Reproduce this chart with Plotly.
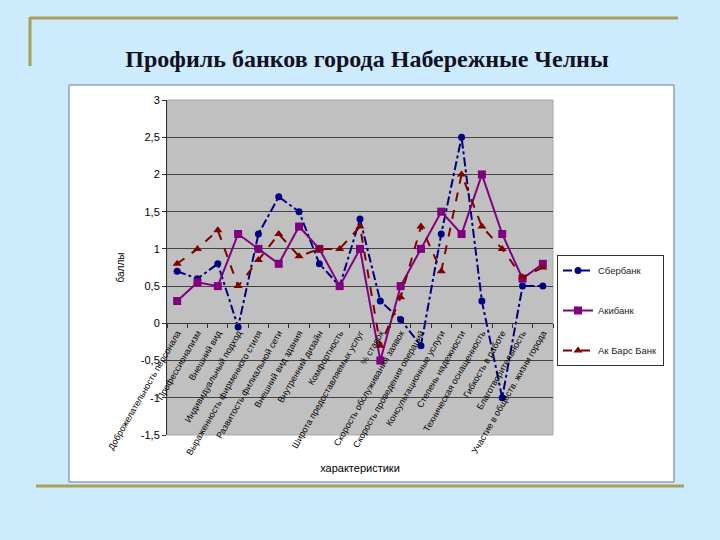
import plotly.graph_objects as go

categories = [
    "Доброжелательность персонала",
    "Профессионализм",
    "Внешний вид",
    "Индивидуальный подход",
    "Выраженность фирменного стиля",
    "Развитость филиальной сети",
    "Внешний вид здания",
    "Внутренний дизайн",
    "Комфортность",
    "Широта предоставляемых услуг",
    "% ставок",
    "Скорость обслуживания заявок",
    "Скорость проведения операций",
    "Консультационные услуги",
    "Степень надежности",
    "Техническая оснащенность",
    "Гибкость в работе",
    "Благотворительность",
    "Участие в обществ. жизни города",
]

sberbank = [0.7, 0.6, 0.8, -0.05, 1.2, 1.7, 1.5, 0.8, 0.5, 1.4, 0.3, 0.05, -0.3, 1.2, 2.5, 0.3, -1.0, 0.5, 0.5]
akibank = [0.3, 0.55, 0.5, 1.2, 1.0, 0.8, 1.3, 1.0, 0.5, 1.0, -0.5, 0.5, 1.0, 1.5, 1.2, 2.0, 1.2, 0.6, 0.8]
akbars = [0.8, 1.0, 1.25, 0.5, 0.85, 1.2, 0.9, 1.0, 1.0, 1.3, -0.3, 0.35, 1.3, 0.7, 2.0, 1.3, 1.0, 0.62, 0.75]

series_names = ["Сбербанк", "Акибанк", "Ак Барс Банк"]

y_tickvals = [3, 2.5, 2, 1.5, 1, 0.5, 0, -0.5, -1, -1.5]
y_ticktext = ["3", "2,5", "2", "1,5", "1", "0,5", "0", "-0,5", "-1", "-1,5"]

title_text = "Профиль банков города Набережные Челны"
x_title = "характеристики"
y_title = "баллы"

W, H = 720, 540
L, R, T, B = 167, 553, 100, 435  # plot area in pixels
YMIN, YMAX = -1.5, 3.0

def px_x(p):
    return (p - L) / (R - L)

def px_y(p):
    return (B - p) / (B - T)

fig = go.Figure()

fig.add_trace(go.Scatter(
    x=categories, y=sberbank, name=series_names[0], mode="lines+markers",
    legendgroup="a",
    line=dict(color="#000080", width=2, dash="dashdot"),
    marker=dict(symbol="circle", size=7, color="#000080"),
))
fig.add_trace(go.Scatter(
    x=categories, y=akibank, name=series_names[1], mode="lines+markers",
    legendgroup="b",
    line=dict(color="#800080", width=2),
    marker=dict(symbol="square", size=8, color="#800080"),
))
fig.add_trace(go.Scatter(
    x=categories, y=akbars, name=series_names[2], mode="lines+markers",
    legendgroup="c",
    line=dict(color="#800000", width=2, dash="dash"),
    marker=dict(symbol="triangle-up", size=8, color="#800000"),
))

zero_pos = (0 - YMIN) / (YMAX - YMIN)

shapes = [
    # white chart box
    dict(type="rect", xref="paper", yref="paper", layer="below",
         x0=px_x(69), x1=px_x(674), y0=px_y(482), y1=px_y(85),
         fillcolor="white", line=dict(color="#6B7B8A", width=1)),
    # gray plot area
    dict(type="rect", xref="paper", yref="paper", layer="below",
         x0=0, x1=1, y0=0, y1=1,
         fillcolor="#C0C0C0", line=dict(color="#A8A8A8", width=1)),
    # olive slide decorations
    dict(type="line", xref="paper", yref="paper",
         x0=px_x(30), x1=px_x(678), y0=px_y(18), y1=px_y(18),
         line=dict(color="#A9A05A", width=3)),
    dict(type="line", xref="paper", yref="paper",
         x0=px_x(30), x1=px_x(30), y0=px_y(17), y1=px_y(66),
         line=dict(color="#A9A05A", width=3)),
    dict(type="line", xref="paper", yref="paper",
         x0=px_x(36), x1=px_x(684), y0=px_y(486), y1=px_y(486),
         line=dict(color="#A9A05A", width=3)),
]

fig.update_layout(
    width=W, height=H,
    margin=dict(l=L, r=W - R, t=T, b=H - B),
    paper_bgcolor="#CCEBFC",
    plot_bgcolor="rgba(0,0,0,0)",
    shapes=shapes,
    title=dict(
        text="<b>" + title_text + "</b>",
        x=367 / W, xanchor="center",
        xref="container", yref="container",
        y=1 - 59 / H, yanchor="middle",
        font=dict(family="Liberation Serif, Times New Roman, serif", size=24, color="#111122"),
    ),
    font=dict(family="Liberation Sans, Arial, sans-serif", color="black"),
    showlegend=True,
    legend=dict(
        x=px_x(557), xanchor="left",
        y=px_y(255), yanchor="top",
        bgcolor="white", bordercolor="#333333", borderwidth=1,
        font=dict(size=9.5, color="#222222"),
        tracegroupgap=21,
        traceorder="grouped",
        itemwidth=30,
    ),
    xaxis=dict(
        type="category",
        range=[-0.5, len(categories) - 0.5],
        anchor="free", position=zero_pos,
        showgrid=False, zeroline=False,
        showline=True, linecolor="#333333", linewidth=1,
        ticks="outside", tickson="boundaries", ticklen=4, tickcolor="#333333",
        tickangle=-60,
        tickfont=dict(size=9, color="black"),
        title=dict(text=x_title, font=dict(size=11, color="black"), standoff=8),
    ),
    yaxis=dict(
        range=[YMIN, YMAX],
        tickvals=y_tickvals, ticktext=y_ticktext,
        showgrid=True, gridcolor="#444444", gridwidth=1,
        zeroline=True, zerolinecolor="#333333", zerolinewidth=1,
        showline=True, linecolor="#333333", linewidth=1,
        ticks="outside", ticklen=4, tickcolor="#333333",
        tickfont=dict(size=11, color="black"),
        title=dict(text=y_title, font=dict(size=10, color="black"), standoff=14),
    ),
)

fig.write_html(
    "out.html",
    config={"displayModeBar": False},
    post_script="document.body.style.margin='0';document.body.style.padding='0';document.body.style.background='#CCEBFC';",
)
